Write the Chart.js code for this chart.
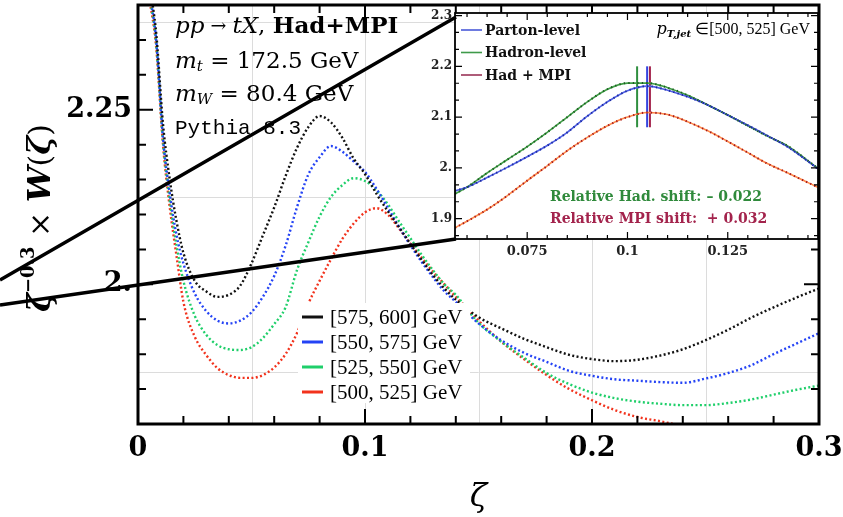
<!DOCTYPE html>
<html>
<head>
<meta charset="utf-8">
<script src="https://cdn.jsdelivr.net/npm/chart.js@4.4.1/dist/chart.umd.min.js"></script>
<style>
  html, body { margin: 0; padding: 0; background: #fff; }
  #wrap { position: relative; width: 843px; height: 517px; overflow: hidden; }
  #wrap canvas { position: absolute; left: 0; top: 0; }
</style>
</head>
<body>
<div id="wrap">
  <canvas id="main" width="843" height="517" style="width:843px;height:517px"></canvas>
  <canvas id="inset" width="843" height="517" style="width:843px;height:517px"></canvas>
</div>
<script>
// ---- main panel data: zeta^-0.3 x W(zeta) per pT,jet bin ----
const zeta = [0.005, 0.008, 0.011, 0.014, 0.017, 0.020, 0.025, 0.030, 0.035, 0.040,
  0.045, 0.050, 0.055, 0.060, 0.065, 0.070, 0.075, 0.080, 0.085, 0.090,
  0.095, 0.100, 0.105, 0.110, 0.115, 0.120, 0.125, 0.130, 0.135, 0.140,
  0.150, 0.160, 0.170, 0.180, 0.190, 0.200, 0.210, 0.220, 0.230, 0.240,
  0.250, 0.260, 0.270, 0.280, 0.290, 0.300];
const bin575 = [2.43, 2.36, 2.23, 2.15, 2.09, 2.045, 2.005, 1.99, 1.982, 1.985,
  1.998, 2.03, 2.07, 2.11, 2.155, 2.195, 2.225, 2.241, 2.232, 2.21,
  2.18, 2.158, 2.13, 2.105, 2.082, 2.058, 2.035, 2.013, 1.994, 1.978,
  1.953, 1.937, 1.922, 1.91, 1.899, 1.893, 1.89, 1.892, 1.898, 1.907,
  1.92, 1.935, 1.952, 1.967, 1.981, 1.994];
const bin550 = [2.42, 2.35, 2.21, 2.13, 2.07, 2.03, 1.987, 1.962, 1.948, 1.944,
  1.948, 1.96, 1.982, 2.012, 2.055, 2.11, 2.157, 2.182, 2.198, 2.19,
  2.176, 2.161, 2.137, 2.11, 2.082, 2.056, 2.032, 2.01, 1.99, 1.975,
  1.944, 1.92, 1.902, 1.889, 1.876, 1.869, 1.864, 1.862, 1.86, 1.859,
  1.865, 1.873, 1.884, 1.9, 1.915, 1.93];
const bin525 = [2.415, 2.345, 2.205, 2.12, 2.055, 2.005, 1.955, 1.928, 1.913, 1.907,
  1.906, 1.91, 1.923, 1.943, 1.967, 2.02, 2.06, 2.097, 2.125, 2.142,
  2.152, 2.148, 2.135, 2.115, 2.09, 2.066, 2.042, 2.02, 2.0, 1.985,
  1.945, 1.918, 1.895, 1.873, 1.857, 1.845, 1.837, 1.832, 1.829, 1.827,
  1.827, 1.83, 1.835, 1.842, 1.849, 1.855];
const bin500 = [2.41, 2.34, 2.2, 2.11, 2.04, 1.975, 1.925, 1.899, 1.88, 1.87,
  1.866, 1.866, 1.87, 1.881, 1.9, 1.93, 1.972, 2.005, 2.036, 2.065,
  2.087, 2.103, 2.109, 2.1, 2.08, 2.058, 2.038, 2.018, 2.0, 1.982,
  1.948, 1.918, 1.893, 1.87, 1.85, 1.834, 1.82, 1.81, 1.804, 1.797,
  1.79, null, null, null, null, null];
const binLabels = ['[575, 600] GeV', '[550, 575] GeV', '[525, 550] GeV', '[500, 525] GeV'];
const binColors = ['#111111', '#2443f5', '#1fcf6a', '#f2321c'];

const xTickValues = [0, 0.1, 0.2, 0.3];
const xTickLabels = ['0', '0.1', '0.2', '0.3'];
const yTickValues = [2.0, 2.25];
const yTickLabels = ['2.', '2.25'];
const gridX = [0.05, 0.1, 0.15, 0.2, 0.25];
const gridY = [1.875, 2.125, 2.375];

// ---- inset data: pT,jet in [500, 525] GeV ----
const insetZeta = [0.057, 0.060, 0.065, 0.070, 0.075, 0.080, 0.085, 0.090, 0.095, 0.100,
  0.105, 0.110, 0.115, 0.120, 0.125, 0.130, 0.135, 0.140, 0.145, 0.1475];
const partonLevel = [1.955, 1.962, 1.981, 2.001, 2.022, 2.044, 2.07, 2.102, 2.13, 2.152,
  2.161, 2.153, 2.14, 2.124, 2.104, 2.084, 2.063, 2.041, 2.013, 1.998];
const hadronLevel = [1.949, 1.962, 1.99, 2.016, 2.042, 2.07, 2.1, 2.13, 2.155, 2.167,
  2.167, 2.158, 2.143, 2.124, 2.104, 2.083, 2.062, 2.043, 2.014, 1.999];
const hadMpi = [1.882, 1.895, 1.918, 1.945, 1.975, 2.004, 2.034, 2.06, 2.083, 2.1,
  2.109, 2.105, 2.091, 2.073, 2.052, 2.03, 2.008, 1.99, 1.971, 1.962];
// fitted peak positions (parton, hadron, had+MPI) and the span of their markers
const peakZeta = [0.1049, 0.1024, 0.1056];
const peakSpan = [2.08, 2.2];
const insetLabels = ['Parton-level', 'Hadron-level', 'Had + MPI'];
const insetXTicks = [0.075, 0.1, 0.125];
const insetXLabels = ['0.075', '0.1', '0.125'];
const insetYTicks = [1.9, 2.0, 2.1, 2.2, 2.3];
const insetYLabels = ['1.9', '2.', '2.1', '2.2', '2.3'];

const SERIF = '"DejaVu Serif", serif';
const pts = (xs, ys) => xs.map((x, i) => ({ x: x, y: ys[i] }));
// keep the plot frame where the axis sizes put it
const noPad = s => { s.paddingTop = 0; s.paddingBottom = 0; s.paddingLeft = 0; s.paddingRight = 0; };

// draws a run of [text, font, dy, colour] pieces left to right, returns end x
function drawRun(ctx, parts, x, y) {
  parts.forEach(p => {
    ctx.font = p[1];
    ctx.fillStyle = p[3] || '#000';
    ctx.fillText(p[0], x, y + (p[2] || 0));
    x += ctx.measureText(p[0]).width;
  });
  return x;
}
function runWidth(ctx, parts) {
  let w = 0;
  parts.forEach(p => { ctx.font = p[1]; w += ctx.measureText(p[0]).width; });
  return w;
}

const mainDecor = {
  id: 'mainDecor',
  beforeDatasetsDraw(chart) {
    const { ctx, chartArea: a, scales: { x, y } } = chart;
    ctx.save();
    ctx.strokeStyle = '#dcdcdc';
    ctx.lineWidth = 1;
    gridX.forEach(v => {
      const px = Math.round(x.getPixelForValue(v)) + 0.5;
      ctx.beginPath(); ctx.moveTo(px, a.top); ctx.lineTo(px, a.bottom); ctx.stroke();
    });
    gridY.forEach(v => {
      const py = Math.round(y.getPixelForValue(v)) + 0.5;
      ctx.beginPath(); ctx.moveTo(a.left, py); ctx.lineTo(a.right, py); ctx.stroke();
    });
    ctx.restore();
  },
  afterDraw(chart) {
    const { ctx, chartArea: a, scales: { x, y } } = chart;
    ctx.save();
    // frame ticks
    ctx.strokeStyle = '#000';
    ctx.lineWidth = 2;
    for (let i = 0; i <= 15; i++) {
      const v = i * 0.02;
      const px = x.getPixelForValue(v);
      const len = Math.abs(v * 10 - Math.round(v * 10)) < 1e-6 ? 15 : 8;
      ctx.beginPath();
      ctx.moveTo(px, a.bottom); ctx.lineTo(px, a.bottom - len);
      ctx.moveTo(px, a.top); ctx.lineTo(px, a.top + len);
      ctx.stroke();
    }
    for (let i = 0; i <= 12; i++) {
      const v = 1.8 + i * 0.05;
      const py = y.getPixelForValue(v);
      const len = yTickValues.some(t => Math.abs(t - v) < 1e-6) ? 15 : 8;
      ctx.beginPath();
      ctx.moveTo(a.left, py); ctx.lineTo(a.left + len, py);
      ctx.moveTo(a.right, py); ctx.lineTo(a.right - len, py);
      ctx.stroke();
    }
    ctx.lineWidth = 3;
    ctx.strokeRect(a.left, a.top, a.right - a.left, a.bottom - a.top);

    // annotation block
    ctx.textBaseline = 'middle';
    ctx.textAlign = 'left';
    const tx = 175;
    drawRun(ctx, [['pp', 'italic 23px ' + SERIF], [' \u2192 ', '19px ' + SERIF], ['tX', 'italic 23px ' + SERIF],
      [', ', '23px ' + SERIF], ['Had+MPI', 'bold 23px ' + SERIF]], tx, 27);
    drawRun(ctx, [['m', 'italic 23px ' + SERIF], ['t', 'italic 15px ' + SERIF, 5], [' = 172.5 GeV', '23px ' + SERIF]], tx, 62);
    drawRun(ctx, [['m', 'italic 23px ' + SERIF], ['W', 'italic 15px ' + SERIF, 5], [' = 80.4 GeV', '23px ' + SERIF]], tx, 95);
    drawRun(ctx, [['Pythia 8.3', '21px "Liberation Mono", monospace']], tx, 128);

    // legend
    ctx.fillStyle = '#fff';
    ctx.fillRect(298, 303, 172, 100);
    binLabels.forEach((lab, i) => {
      const ly = 317 + i * 25;
      ctx.strokeStyle = binColors[i];
      ctx.lineWidth = 3;
      ctx.beginPath(); ctx.moveTo(302, ly); ctx.lineTo(323, ly); ctx.stroke();
      ctx.fillStyle = '#000';
      ctx.font = '21px "Liberation Serif", serif';
      ctx.fillText(lab, 330, ly + 1);
    });

    // y axis title: zeta^-0.3 x W(zeta)
    const parts = [['\u03b6', 'bold italic 32px ' + SERIF], ['\u22120.3', 'bold 18px ' + SERIF, -13],
      [' \u00d7 ', '30px ' + SERIF], ['W', 'bold italic 32px ' + SERIF], ['(', '30px ' + SERIF],
      ['\u03b6', 'bold italic 32px ' + SERIF], [')', '30px ' + SERIF]];
    const w = runWidth(ctx, parts);
    ctx.translate(42, 218);
    ctx.rotate(-Math.PI / 2);
    drawRun(ctx, parts, -w / 2, 0);
    ctx.restore();
  }
};

const mainSeries = [bin575, bin550, bin525, bin500];
new Chart(document.getElementById('main'), {
  type: 'line',
  data: {
    datasets: mainSeries.map((s, i) => ({
      label: binLabels[i],
      data: pts(zeta, s),
      borderColor: binColors[i],
      borderWidth: 2.4,
      borderDash: [2, 2.4],
      pointRadius: 0,
      cubicInterpolationMode: 'monotone',
      spanGaps: false
    }))
  },
  options: {
    responsive: false,
    animation: false,
    layout: { padding: { top: 5, right: 24, left: 0, bottom: 0 } },
    plugins: { legend: { display: false }, tooltip: { enabled: false } },
    scales: {
      x: {
        type: 'linear', min: 0, max: 0.3,
        afterBuildTicks: s => { s.ticks = xTickValues.map(v => ({ value: v })); },
        afterFit: s => { s.height = 93; noPad(s); },
        grid: { display: false, drawTicks: false }, border: { display: false },
        ticks: {
          autoSkip: false, maxRotation: 0, padding: 9, color: '#000',
          font: { family: 'DejaVu Serif', size: 27, weight: 'bold' },
          callback: (v, i) => xTickLabels[i]
        },
        title: {
          display: true, text: '\u03b6', color: '#000',
          font: { family: 'DejaVu Serif', size: 32, style: 'italic' },
          padding: { top: 0, bottom: 0 }
        }
      },
      y: {
        type: 'linear', min: 1.8, max: 2.4,
        afterBuildTicks: s => { s.ticks = yTickValues.map(v => ({ value: v })); },
        afterFit: s => { s.width = 138; noPad(s); },
        grid: { display: false, drawTicks: false }, border: { display: false },
        ticks: {
          autoSkip: false, padding: 6, color: '#000',
          font: { family: 'DejaVu Serif', size: 27, weight: 'bold' },
          callback: (v, i) => yTickLabels[i]
        }
      }
    }
  },
  plugins: [mainDecor]
});

// ---- inset ----
const insetColors = {
  line: ['#4f5fe6', '#3f9f45', '#ff8a4a'],
  dots: ['#1b2a9c', '#1d5a22', '#a3161c'],
  peak: ['#3343e0', '#2f8f3f', '#a3234c'],
  legend: ['#4a5ad8', '#3f9a4a', '#9a3458']
};
const insetSeries = [partonLevel, hadronLevel, hadMpi];

const insetDecor = {
  id: 'insetDecor',
  beforeDraw(chart) {
    const { ctx, chartArea: a } = chart;
    ctx.save();
    ctx.fillStyle = '#fff';
    ctx.fillRect(a.left, a.top, a.right - a.left, a.bottom - a.top);
    ctx.restore();
  },
  afterDraw(chart) {
    const { ctx, chartArea: a, scales: { x, y } } = chart;
    ctx.save();
    ctx.strokeStyle = '#000';
    ctx.lineWidth = 1.2;
    for (let i = 0; i <= 18; i++) {
      const v = 0.055 + i * 0.005;
      if (v < x.min || v > x.max) continue;
      const px = x.getPixelForValue(v);
      const len = Math.abs(v / 0.025 - Math.round(v / 0.025)) < 1e-6 ? 7 : 4;
      ctx.beginPath();
      ctx.moveTo(px, a.bottom); ctx.lineTo(px, a.bottom - len);
      ctx.moveTo(px, a.top); ctx.lineTo(px, a.top + len);
      ctx.stroke();
    }
    for (let i = 0; i <= 15; i++) {
      const v = 1.8 + i * 0.1 / 3;
      if (v < y.min || v > y.max) continue;
      const py = y.getPixelForValue(v);
      const len = i % 3 === 0 ? 7 : 4;
      ctx.beginPath();
      ctx.moveTo(a.left, py); ctx.lineTo(a.left + len, py);
      ctx.moveTo(a.right, py); ctx.lineTo(a.right - len, py);
      ctx.stroke();
    }
    ctx.lineWidth = 1.8;
    ctx.strokeRect(a.left, a.top, a.right - a.left, a.bottom - a.top);

    // legend
    ctx.textBaseline = 'middle';
    insetLabels.forEach((lab, i) => {
      const ly = 30 + i * 22.5;
      ctx.strokeStyle = insetColors.legend[i];
      ctx.lineWidth = 1.6;
      ctx.beginPath(); ctx.moveTo(461, ly); ctx.lineTo(482, ly); ctx.stroke();
      ctx.fillStyle = '#111';
      ctx.font = 'bold 14px ' + SERIF;
      ctx.fillText(lab, 485, ly + 1);
    });
    // bin label
    const bin = [['p', 'italic 16px ' + SERIF], ['T,jet', 'bold italic 10px ' + SERIF, 4],
      [' \u2208[500, 525] GeV', '16px "Liberation Serif", serif']];
    drawRun(ctx, bin, a.right - 8 - runWidth(ctx, bin), 30);
    // shifts
    ctx.font = 'bold 14px ' + SERIF;
    ctx.fillStyle = '#2f8a3b';
    ctx.fillText('Relative Had. shift: \u2013 0.022', 550, 197);
    ctx.fillStyle = '#a3234c';
    ctx.fillText('Relative MPI shift:  + 0.032', 550, 219);

    // zoom connector lines
    ctx.strokeStyle = '#000';
    ctx.lineWidth = 3.5;
    ctx.beginPath();
    ctx.moveTo(0, 280); ctx.lineTo(a.left + 1, a.top + 4);
    ctx.moveTo(0, 305); ctx.lineTo(a.left + 1, a.bottom);
    ctx.stroke();
    ctx.restore();
  }
};

const insetDatasets = [];
insetSeries.forEach((s, i) => {
  insetDatasets.push({
    data: pts(insetZeta, s), borderColor: insetColors.dots[i], borderWidth: 2,
    borderDash: [1.3, 3.2], pointRadius: 0, cubicInterpolationMode: 'monotone'
  });
});
insetSeries.forEach((s, i) => {
  insetDatasets.push({
    data: pts(insetZeta, s), borderColor: insetColors.line[i], borderWidth: 1.6,
    pointRadius: 0, cubicInterpolationMode: 'monotone'
  });
});
peakZeta.forEach((p, i) => {
  insetDatasets.push({
    data: [{ x: p, y: peakSpan[0] }, { x: p, y: peakSpan[1] }],
    borderColor: insetColors.peak[i], borderWidth: 2, pointRadius: 0
  });
});

new Chart(document.getElementById('inset'), {
  type: 'line',
  data: { datasets: insetDatasets },
  options: {
    responsive: false,
    animation: false,
    layout: { padding: { top: 13, right: 25, left: 0, bottom: 0 } },
    plugins: { legend: { display: false }, tooltip: { enabled: false } },
    scales: {
      x: {
        type: 'linear', min: 0.057, max: 0.1475,
        afterBuildTicks: s => { s.ticks = insetXTicks.map(v => ({ value: v })); },
        afterFit: s => { s.height = 278; noPad(s); },
        grid: { display: false, drawTicks: false }, border: { display: false },
        ticks: {
          autoSkip: false, maxRotation: 0, padding: 5, color: '#222',
          font: { family: 'DejaVu Serif', size: 13, weight: 'bold' },
          callback: (v, i) => insetXLabels[i]
        }
      },
      y: {
        type: 'linear', min: 1.86, max: 2.305,
        afterBuildTicks: s => { s.ticks = insetYTicks.map(v => ({ value: v })); },
        afterFit: s => { s.width = 455; noPad(s); },
        grid: { display: false, drawTicks: false }, border: { display: false },
        ticks: {
          autoSkip: false, padding: 3, color: '#222',
          font: { family: 'DejaVu Serif', size: 12, weight: 'bold' },
          callback: (v, i) => insetYLabels[i]
        }
      }
    }
  },
  plugins: [insetDecor]
});
</script>
</body>
</html>
